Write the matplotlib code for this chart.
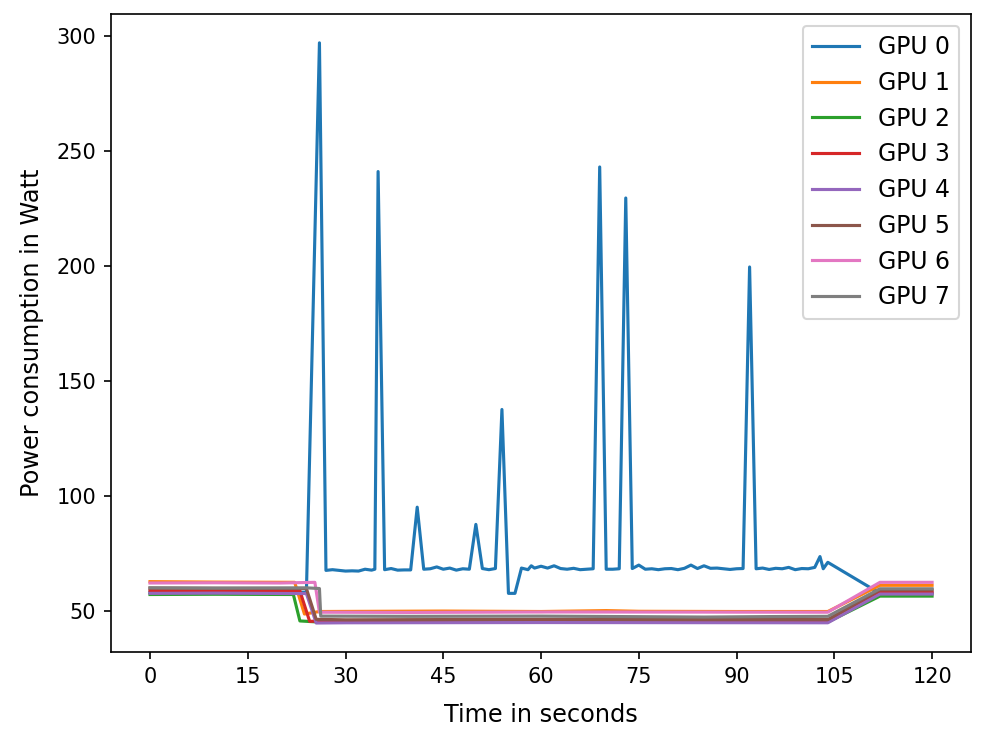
import matplotlib
matplotlib.use("Agg")
import matplotlib.pyplot as plt

# GPU 0: time (s) and power (W)
t0 = [0, 10, 20, 24, 26, 27, 28, 29, 30, 31, 32, 33, 34, 34.5, 35, 36, 37, 38, 39, 40,
      41, 42, 43, 44, 45, 46, 47, 48, 49, 50, 51, 52, 53, 54, 55, 56, 57, 58, 58.5, 59,
      60, 61, 62, 63, 64, 65, 66, 67, 68, 69, 70, 71, 72, 73, 74, 75, 76, 77, 78, 79,
      80, 81, 82, 83, 84, 85, 86, 87, 88, 89, 90, 91, 92, 93, 94, 95, 96, 97, 98, 99,
      100, 101, 102, 102.8, 103.3, 104, 112, 120]
p0 = [58, 58, 58, 58, 297, 67.5, 67.8, 67.5, 67.2, 67.3, 67.2, 68.0, 67.6, 68, 241, 67.8, 68.3, 67.6, 67.7, 67.7,
      95, 68, 68.2, 69, 68, 68.5, 67.6, 68.2, 68, 87.5, 68.3, 67.8, 68.3, 137.5, 57.5, 57.5, 68.5, 67.8, 69.5, 68.5,
      69.3, 68.5, 69.5, 68.3, 68, 68.4, 67.8, 68, 68.2, 243, 68, 68, 68.2, 229.5, 68.3, 69.8, 68, 68.2, 67.8, 68.2,
      68.3, 67.8, 68.4, 69.8, 68.3, 69.5, 68.4, 68.5, 68.2, 67.9, 68.2, 68.3, 199.5, 68.2, 68.5, 67.9, 68.4, 68.2, 68.8, 67.8,
      68.3, 68.2, 68.8, 73.5, 68.2, 71, 57.5, 57.5]

# GPUs 1-7: idle -> drop -> low -> ramp -> idle
t1 = [0, 10, 22.2, 23.7, 26, 45, 60, 70, 75, 90, 104, 112, 120]
p1 = [62.6, 62.4, 62.3, 48.5, 49.6, 49.8, 49.6, 50.0, 49.7, 49.6, 49.6, 61.0, 61.0]
t2 = [0, 10, 22, 23, 26, 60, 104, 112, 120]
p2 = [57.0, 57.1, 57.0, 45.5, 45.0, 45.0, 45.0, 56.3, 56.3]
t3 = [0, 10, 23, 24.5, 26, 60, 104, 112, 120]
p3 = [58.7, 58.6, 58.6, 45.3, 45.5, 45.4, 45.4, 58.0, 58.0]
t4 = [0, 10, 24, 25.5, 30, 60, 104, 112, 120]
p4 = [57.5, 57.6, 57.4, 44.6, 44.7, 44.8, 44.7, 57.2, 57.2]
t5 = [0, 10, 24, 25.5, 30, 60, 85, 104, 112, 120]
p5 = [59.8, 59.7, 59.6, 46.2, 46.0, 46.2, 46.1, 46.1, 59.0, 59.0]
t6 = [0, 10, 20, 25.3, 26, 40, 60, 104, 112, 120]
p6 = [62.0, 62.1, 62.0, 62.3, 49.3, 49.2, 49.4, 49.3, 62.3, 62.3]
t7 = [0, 10, 24, 26, 26.2, 40, 60, 85, 95, 104, 112, 120]
p7 = [59.9, 59.8, 59.9, 59.6, 47.6, 47.5, 47.6, 47.2, 47.4, 47.5, 59.5, 59.5]

times = [t0, t1, t2, t3, t4, t5, t6, t7]
powers = [p0, p1, p2, p3, p4, p5, p6, p7]
labels = ["GPU %d" % i for i in range(8)]
xticks = [0, 15, 30, 45, 60, 75, 90, 105, 120]

fig = plt.figure(figsize=(6.6, 4.86), dpi=150)
ax = fig.add_subplot(111)
fig.subplots_adjust(left=0.112, right=0.981, top=0.981, bottom=0.1056)
for t, p, lab in zip(times, powers, labels):
    ax.plot(t, p, label=lab)
ax.set_xticks(xticks)
ax.set_xlabel("Time in seconds", fontsize=11.5, labelpad=8)
ax.set_ylabel("Power consumption in Watt", fontsize=11.5, labelpad=6)
ax.legend(loc="upper right", fontsize=11.3)
fig.savefig("out.png", dpi=150)
